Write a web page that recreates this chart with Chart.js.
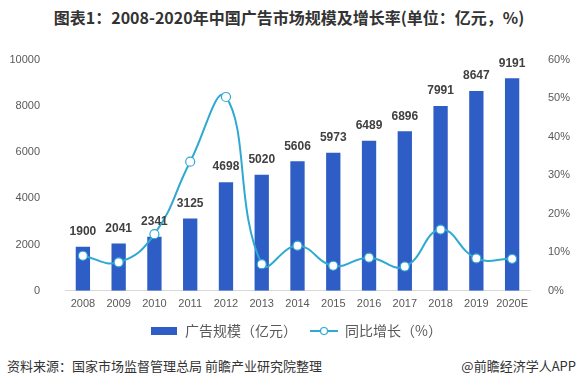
<!DOCTYPE html>
<html>
<head>
<meta charset="utf-8">
<script src="https://cdn.jsdelivr.net/npm/chart.js@4/dist/chart.umd.min.js"></script>
<style>
	body{margin:0;background:#fff;width:578px;height:387px;overflow:hidden;position:relative;font-family:"Noto Sans CJK SC",sans-serif;}
	#titulo{position:absolute;left:0;top:5px;width:578px;text-align:center;font-size:16px;font-weight:bold;color:#333;}
	#grafico{position:absolute;left:0;top:36px;}
	.pie{position:absolute;top:356px;font-size:13px;color:#333;}
</style>
</head>
<body>
<div id="titulo">图表1：2008-2020年中国广告市场规模及增长率(单位：亿元，%)</div>
<canvas id="grafico" width="578" height="312"></canvas>
<div class="pie" style="left:7px;">资料来源：国家市场监督管理总局 前瞻产业研究院整理</div>
<div class="pie" style="right:2px;">@前瞻经济学人APP</div>
<script>
var anios = ["2008","2009","2010","2011","2012","2013","2014","2015","2016","2017","2018","2019","2020E"];
var escala = [1900,2041,2341,3125,4698,5020,5606,5973,6489,6896,7991,8647,9191];
var crecimiento = [9.1,7.4,14.7,33.5,50.3,6.9,11.7,6.5,8.6,6.3,15.9,8.4,8.3];
var ticksIzq = [0,2000,4000,6000,8000,10000];
var ticksDer = [0,10,20,30,40,50,60];

var azul = "#2E5DC6";
var cian = "#2FA9D2";

function muestraBarra(){
	var c = document.createElement("canvas");
	c.width = 26; c.height = 8;
	var ctx = c.getContext("2d");
	ctx.fillStyle = azul;
	ctx.fillRect(0,0,26,8);
	return c;
}
function muestraLinea(){
	var c = document.createElement("canvas");
	c.width = 28; c.height = 10;
	var ctx = c.getContext("2d");
	ctx.strokeStyle = cian; ctx.lineWidth = 2;
	ctx.beginPath(); ctx.moveTo(0,5); ctx.lineTo(28,5); ctx.stroke();
	ctx.fillStyle = "#fff"; ctx.lineWidth = 1.2;
	ctx.beginPath(); ctx.arc(14,5,3.5,0,Math.PI*2); ctx.fill(); ctx.stroke();
	return c;
}

// etiquetas encima de las barras
var etiquetas = {
	id: "etiquetas",
	afterDatasetsDraw: function(chart){
		var ctx = chart.ctx;
		var meta = chart.getDatasetMeta(1);
		ctx.save();
		ctx.font = "bold 12px 'Liberation Sans', Arial, sans-serif";
		ctx.fillStyle = "#404040";
		ctx.textAlign = "center";
		ctx.textBaseline = "bottom";
		meta.data.forEach(function(bar, i){
			ctx.fillText(escala[i], bar.x, bar.y - 9);
		});
		ctx.restore();
	}
};

var fuenteTicks = {family:"'Liberation Sans', Arial, sans-serif", size:11};

new Chart(document.getElementById("grafico").getContext("2d"), {
	data: {
		labels: anios,
		datasets: [{
			type: "line",
			label: "同比增长（%）",
			data: crecimiento,
			yAxisID: "y1",
			borderColor: cian,
			borderWidth: 2,
			tension: 0.45,
			pointRadius: 4.5,
			pointBorderWidth: 1.2,
			pointBorderColor: cian,
			pointBackgroundColor: "#fff",
			order: 0
		},{
			type: "bar",
			label: "广告规模（亿元）",
			data: escala,
			yAxisID: "y",
			backgroundColor: azul,
			barPercentage: 0.4,
			categoryPercentage: 1,
			order: 1
		}]
	},
	options: {
		responsive: false,
		animation: false,
		layout: {padding: {top: 11, left: 0, right: -14, bottom: 0}},
		plugins: {
			tooltip: {enabled: false},
			legend: {
				position: "bottom",
				labels: {
					usePointStyle: true,
					pointStyleWidth: 28,
					color: "#595959",
					font: {family: "'Noto Sans CJK SC', sans-serif", size: 14},
					padding: 6,
					generateLabels: function(chart){
						return [
							{text: "广告规模（亿元）　", pointStyle: muestraBarra(), datasetIndex: 1, fontColor: "#595959", lineWidth: 0, strokeStyle: "transparent", fillStyle: "transparent"},
							{text: "同比增长（%）", pointStyle: muestraLinea(), datasetIndex: 0, fontColor: "#595959", lineWidth: 0, strokeStyle: "transparent", fillStyle: "transparent"}
						];
					}
				}
			}
		},
		scales: {
			x: {
				grid: {display: false, drawTicks: false},
				border: {color: "#D9D9D9"},
				ticks: {color: "#595959", font: fuenteTicks, padding: 7, maxRotation: 0, autoSkip: false}
			},
			y: {
				position: "left",
				min: 0, max: 10000,
				afterBuildTicks: function(s){ s.ticks = ticksIzq.map(function(v){return {value:v};}); },
				afterFit: function(s){ s.width = 65; },
				grid: {display: false},
				border: {display: false},
				ticks: {color: "#595959", font: fuenteTicks, padding: 17, callback: function(v){ return String(v); }}
			},
			y1: {
				position: "right",
				min: 0, max: 60,
				afterBuildTicks: function(s){ s.ticks = ticksDer.map(function(v){return {value:v};}); },
				afterFit: function(s){ s.width = 62; },
				grid: {display: false},
				border: {display: false},
				ticks: {color: "#595959", font: fuenteTicks, padding: 10, callback: function(v){ return v + "%"; }}
			}
		}
	},
	plugins: [etiquetas]
});
</script>
</body>
</html>
